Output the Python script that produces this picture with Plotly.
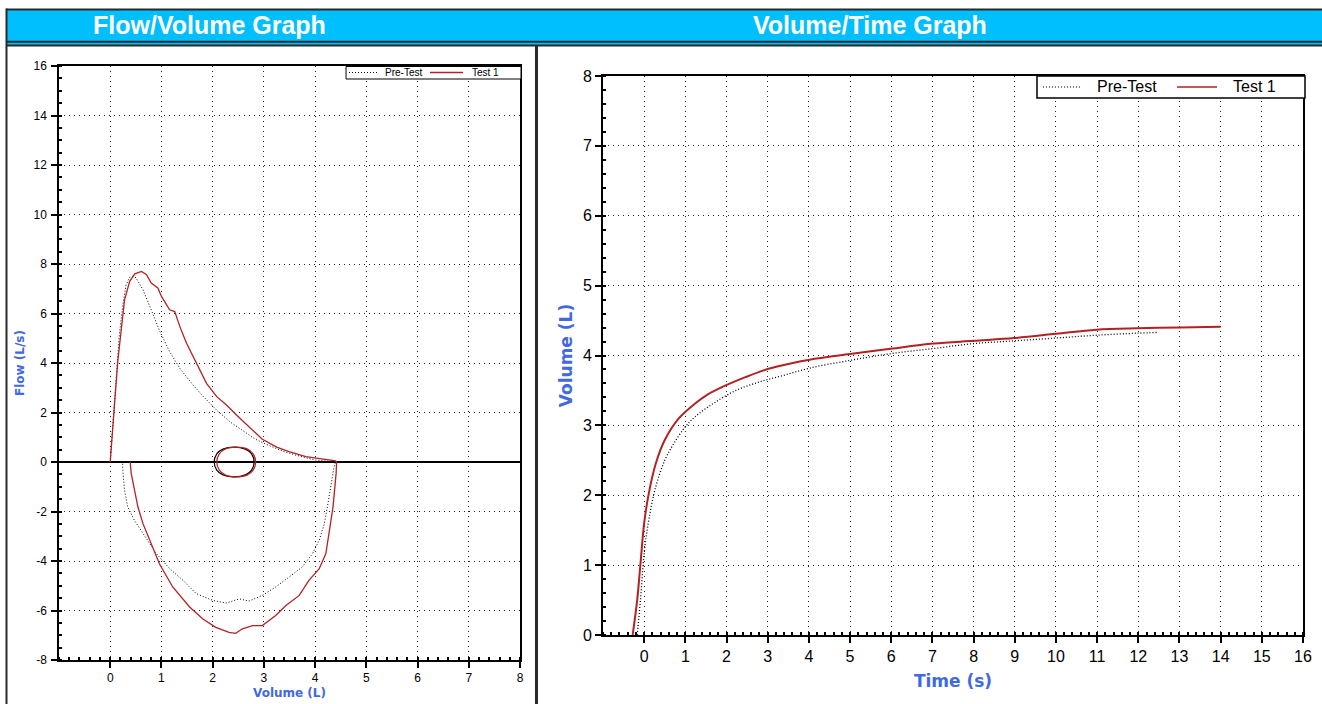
import plotly.graph_objects as go

W, H = 1322, 704

# ---------------- Flow / Volume data ----------------
pre_fv_vol = [0, 0.05, 0.12, 0.18, 0.25, 0.31, 0.38, 0.44, 0.50, 0.64, 0.80, 0.97, 1.16, 1.36,
              1.62, 1.82, 2.08, 2.34, 2.67, 2.81, 2.99, 3.23, 3.39, 3.62, 4.00, 4.27, 4.40,
              4.37, 4.31, 4.24, 4.18, 4.08, 3.95, 3.75, 3.49, 3.23, 2.97, 2.71, 2.52, 2.26,
              2.00, 1.68, 1.42, 1.16, 0.90, 0.64, 0.47, 0.34, 0.28, 0.25, 0.24]
pre_fv_flow = [0, 1.55, 3.45, 5.2, 6.4, 7.16, 7.47, 7.5, 7.45, 6.96, 6.15, 5.27, 4.46, 3.78,
               3.1, 2.64, 2.09, 1.62, 1.15, 0.95, 0.76, 0.55, 0.42, 0.28, 0.08, 0.03, 0.0,
               -0.19, -0.86, -1.81, -2.49, -3.16, -3.7, -4.24, -4.65, -5.05, -5.39, -5.62, -5.53, -5.7,
               -5.59, -5.32, -4.78, -4.31, -3.7, -2.89, -2.35, -1.81, -1.14, -0.46, 0.0]

t1_fv_vol = [0, 0.04, 0.085, 0.15, 0.22, 0.28, 0.38, 0.48, 0.61, 0.71, 0.80, 0.93, 1.00, 1.16,
             1.26, 1.36, 1.49, 1.69, 1.88, 2.08, 2.27, 2.47, 2.67, 2.97, 3.25, 3.49, 3.82, 4.14,
             4.40, 4.42, 4.41, 4.35, 4.27, 4.21, 4.08, 3.88, 3.69, 3.43, 3.23, 2.97, 2.78, 2.58,
             2.45, 2.32, 2.06, 1.81, 1.55, 1.22, 0.96, 0.77, 0.64, 0.54, 0.47, 0.41, 0.39]
t1_fv_flow = [0, 1.0, 2.36, 4.12, 5.47, 6.55, 7.3, 7.6, 7.7, 7.57, 7.23, 7.03, 6.69, 6.15,
              6.08, 5.47, 4.8, 3.99, 3.18, 2.64, 2.3, 1.89, 1.49, 0.92, 0.6, 0.42, 0.22, 0.11,
              0.05, 0.0, -0.46, -1.81, -2.89, -3.7, -4.31, -4.78, -5.39, -5.8, -6.2, -6.61, -6.61, -6.74,
              -6.92, -6.88, -6.68, -6.34, -5.86, -5.05, -4.11, -3.16, -2.49, -1.81, -1.14, -0.46, 0.0]

# tidal loops
pre_tidal_vol = [2.03, 2.08, 2.20, 2.42, 2.64, 2.76, 2.81, 2.76, 2.64, 2.42, 2.20, 2.08, 2.03]
pre_tidal_flow = [0, 0.33, 0.52, 0.60, 0.52, 0.33, 0, -0.33, -0.52, -0.60, -0.52, -0.33, 0]
t1_tidal_vol = [2.08, 2.13, 2.25, 2.46, 2.67, 2.79, 2.84, 2.79, 2.67, 2.46, 2.25, 2.13, 2.08]
t1_tidal_flow = [0, 0.33, 0.53, 0.60, 0.53, 0.33, 0, -0.33, -0.53, -0.60, -0.53, -0.33, 0]

# ---------------- Volume / Time data ----------------
pre_vt_time = [-0.17, -0.09, 0.0, 0.11, 0.28, 0.50, 0.72, 1.00, 1.23, 1.67, 2.23, 2.79, 3.35,
               4.02, 5.0, 6.03, 7.03, 8.0, 8.99, 10.0, 10.98, 11.98, 12.45]
pre_vt_vol = [0.0, 0.5, 1.17, 1.64, 2.12, 2.5, 2.74, 2.98, 3.12, 3.31, 3.5, 3.62, 3.71,
              3.82, 3.93, 4.03, 4.10, 4.17, 4.21, 4.25, 4.29, 4.32, 4.33]
t1_vt_time = [-0.28, -0.17, -0.09, 0.0, 0.11, 0.28, 0.50, 0.84, 1.23, 1.51, 1.90, 2.46, 3.02,
              3.58, 4.02, 5.0, 6.03, 7.03, 8.0, 8.99, 10.0, 10.98, 11.98, 13.0, 14.0]
t1_vt_vol = [0.0, 0.5, 1.02, 1.6, 2.02, 2.45, 2.79, 3.1, 3.31, 3.43, 3.55, 3.69, 3.81,
             3.89, 3.94, 4.02, 4.10, 4.17, 4.21, 4.25, 4.31, 4.37, 4.39, 4.40, 4.41]

series_names = ["Pre-Test", "Test 1"]
fv_xticks = [0, 1, 2, 3, 4, 5, 6, 7, 8]
fv_yticks = [-8, -6, -4, -2, 0, 2, 4, 6, 8, 10, 12, 14, 16]
fv_ylabels = ["-8", "-6", "-4", "-2", "0", "2", "4", "6", "8", "10", "12", "14", "16"]
vt_xticks = list(range(0, 17))
vt_yticks = list(range(0, 9))

RED = "#B22222"
BLUE = "#4169E1"
CYAN = "#00BFFF"
DARK = "#2a2a2a"
PRE_DASH = "1px,2px"


def px(x):
    return x / W


def py(y):
    return 1 - y / H


fig = go.Figure()

# Flow/Volume traces
fig.add_trace(go.Scatter(x=pre_fv_vol, y=pre_fv_flow, mode="lines", name=series_names[0],
                         line=dict(color="black", width=1, dash=PRE_DASH),
                         xaxis="x", yaxis="y", showlegend=False))
fig.add_trace(go.Scatter(x=t1_fv_vol, y=t1_fv_flow, mode="lines", name=series_names[1],
                         line=dict(color=RED, width=1.3),
                         xaxis="x", yaxis="y", showlegend=False))
fig.add_trace(go.Scatter(x=pre_tidal_vol, y=pre_tidal_flow, mode="lines", showlegend=False,
                         line=dict(color="black", width=1.2, shape="spline"),
                         xaxis="x", yaxis="y"))
fig.add_trace(go.Scatter(x=t1_tidal_vol, y=t1_tidal_flow, mode="lines", showlegend=False,
                         line=dict(color=RED, width=1.2, shape="spline"),
                         xaxis="x", yaxis="y"))

# Volume/Time traces
fig.add_trace(go.Scatter(x=pre_vt_time, y=pre_vt_vol, mode="lines", name=series_names[0],
                         line=dict(color="black", width=1.3, dash=PRE_DASH, shape="spline"),
                         xaxis="x2", yaxis="y2", showlegend=False))
fig.add_trace(go.Scatter(x=t1_vt_time, y=t1_vt_vol, mode="lines", name=series_names[1],
                         line=dict(color=RED, width=2, shape="spline"),
                         xaxis="x2", yaxis="y2", showlegend=False))

grid_common = dict(showgrid=True, gridcolor="#222", gridwidth=1, griddash="1px,4px",
                   showline=True, linecolor="black", mirror=True, automargin=False,
                   ticks="outside", tickcolor="black", color="black")

fig.update_layout(
    width=W, height=H, autosize=False,
    margin=dict(l=0, r=0, t=0, b=0),
    paper_bgcolor="white", plot_bgcolor="white",
    template="none",
    showlegend=False,
    font=dict(family="Liberation Sans, Arial, sans-serif", color="black"),
    xaxis=dict(**grid_common, domain=[px(59), px(520)], range=[-1, 8],
               tickmode="array", tickvals=fv_xticks, ticklen=6, linewidth=1.5, tickwidth=1.5,
               zeroline=False, tickfont=dict(size=12),
               minor=dict(tickmode="linear", tick0=0, dtick=0.2, ticks="inside", ticklen=3,
                          tickcolor="black", showgrid=False),
               title=dict(text="<b>Volume (L)</b>", standoff=4,
                          font=dict(family="DejaVu Sans", size=12, color=BLUE)),
               anchor="y"),
    yaxis=dict(**grid_common, domain=[py(660), py(66)], range=[-8, 16],
               tickmode="array", tickvals=fv_yticks, ticktext=fv_ylabels,
               ticklen=6, linewidth=1.5, tickwidth=1.5,
               zeroline=True, zerolinecolor="black", zerolinewidth=1.5, tickfont=dict(size=12),
               ticklabelstandoff=2,
               minor=dict(tickmode="linear", tick0=0, dtick=0.5, ticks="inside", ticklen=3,
                          tickcolor="black", showgrid=False),
               title=dict(text="<b>Flow (L/s)</b>", standoff=6,
                          font=dict(family="DejaVu Sans", size=12, color=BLUE)),
               anchor="x"),
    xaxis2=dict(**grid_common, domain=[px(603), px(1303)], range=[-1, 16],
                tickmode="array", tickvals=vt_xticks, ticklen=6, linewidth=2, tickwidth=2,
                zeroline=False, tickfont=dict(size=16),
                minor=dict(tickmode="linear", tick0=0, dtick=0.2, ticks="inside", ticklen=3,
                           tickcolor="black", showgrid=False),
                title=dict(text="<b>Time (s)</b>", standoff=11,
                           font=dict(family="DejaVu Sans", size=17, color=BLUE)),
                anchor="y2"),
    yaxis2=dict(**grid_common, domain=[py(635), py(76)], range=[0, 8],
                tickmode="array", tickvals=vt_yticks, ticklen=6, linewidth=2, tickwidth=2,
                zeroline=False, tickfont=dict(size=16),
                minor=dict(tickmode="linear", tick0=0, dtick=0.2, ticks="inside", ticklen=3,
                           tickcolor="black", showgrid=False),
                title=dict(text="<b>Volume (L)</b>", standoff=6,
                           font=dict(family="DejaVu Sans", size=17, color=BLUE)),
                anchor="x2"),
)

shapes = []
# header bar
shapes.append(dict(type="rect", xref="paper", yref="paper", x0=px(6), x1=px(W), y0=py(46), y1=py(9),
                   fillcolor=CYAN, line=dict(width=0), layer="below"))
for yy, w in [(9.5, 2), (41.8, 2), (45.5, 2)]:
    shapes.append(dict(type="line", xref="paper", yref="paper", x0=px(6), x1=px(W), y0=py(yy), y1=py(yy),
                       line=dict(color=DARK, width=w)))
# panel borders
shapes.append(dict(type="line", xref="paper", yref="paper", x0=px(6.5), x1=px(6.5), y0=py(8.5), y1=py(H),
                   line=dict(color=DARK, width=2)))
shapes.append(dict(type="line", xref="paper", yref="paper", x0=px(536.5), x1=px(536.5), y0=py(46), y1=py(H),
                   line=dict(color=DARK, width=3)))


# custom legends (box, line samples, labels)
def add_legend(box, y_mid, pre_seg, t1_seg, pre_text_x, t1_text_x, size, bw, pre_w, t1_w):
    x0, y0, x1, y1 = box
    shapes.append(dict(type="rect", xref="paper", yref="paper", x0=px(x0), x1=px(x1), y0=py(y1), y1=py(y0),
                       fillcolor="white", line=dict(color="black", width=bw)))
    shapes.append(dict(type="line", xref="paper", yref="paper", x0=px(pre_seg[0]), x1=px(pre_seg[1]),
                       y0=py(y_mid), y1=py(y_mid), line=dict(color="black", width=pre_w, dash=PRE_DASH)))
    shapes.append(dict(type="line", xref="paper", yref="paper", x0=px(t1_seg[0]), x1=px(t1_seg[1]),
                       y0=py(y_mid), y1=py(y_mid), line=dict(color=RED, width=t1_w)))
    for txt, tx in [(series_names[0], pre_text_x), (series_names[1], t1_text_x)]:
        fig.add_annotation(text=txt, xref="paper", yref="paper", x=px(tx), y=py(y_mid),
                           xanchor="left", yanchor="middle", showarrow=False,
                           font=dict(family="Liberation Sans", size=size, color="black"))


add_legend((346, 66.5, 521, 79), 72.5, (349, 377), (430, 463), 383, 470, 10, 1, 1, 1.3)
add_legend((1037, 76, 1305, 98), 87, (1043, 1081), (1177, 1217), 1095, 1231, 16, 1.5, 1, 1.5)

fig.update_layout(shapes=shapes)

fig.add_annotation(text="<b>Flow/Volume Graph</b>", xref="paper", yref="paper", x=px(209), y=py(25),
                   xanchor="center", yanchor="middle",
                   showarrow=False, font=dict(family="Liberation Sans", size=25, color="white"))
fig.add_annotation(text="<b>Volume/Time Graph</b>", xref="paper", yref="paper", x=px(870), y=py(25),
                   xanchor="center", yanchor="middle",
                   showarrow=False, font=dict(family="Liberation Sans", size=25, color="white"))

fig.write_html("out.html", config={"displayModeBar": False},
               post_script="document.body.style.margin='0px';document.body.style.overflow='hidden';")
